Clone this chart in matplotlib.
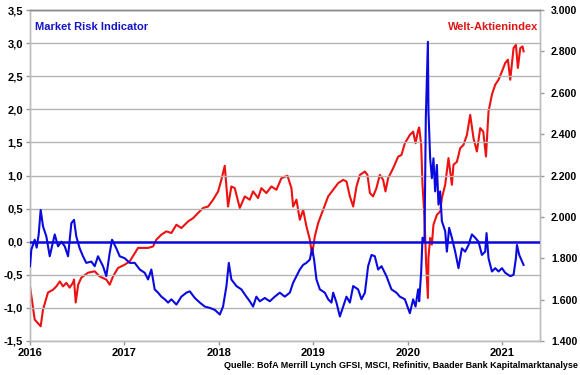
import matplotlib
matplotlib.use("Agg")
import matplotlib.pyplot as plt

# ---- data (decimal year, value) ----
risk_t = [2016.00, 2016.014, 2016.05, 2016.071, 2016.092, 2016.113, 2016.138, 2016.173, 2016.209, 2016.262,
          2016.297, 2016.332, 2016.368, 2016.403, 2016.438, 2016.466, 2016.49, 2016.526, 2016.561, 2016.596,
          2016.649, 2016.685, 2016.72, 2016.773, 2016.808, 2016.844, 2016.869, 2016.914, 2016.95, 2017.003,
          2017.056, 2017.109, 2017.162, 2017.215, 2017.25, 2017.285, 2017.32, 2017.356, 2017.391, 2017.427,
          2017.462, 2017.497, 2017.55, 2017.603, 2017.656, 2017.692, 2017.745, 2017.798, 2017.851, 2017.904,
          2017.957, 2018.01, 2018.044, 2018.08, 2018.105, 2018.132, 2018.185, 2018.238, 2018.291, 2018.327,
          2018.362, 2018.397, 2018.433, 2018.486, 2018.539, 2018.592, 2018.645, 2018.698, 2018.751, 2018.786,
          2018.821, 2018.857, 2018.892, 2018.927, 2018.963, 2018.987, 2019.008, 2019.033, 2019.069, 2019.122,
          2019.157, 2019.192, 2019.21, 2019.245, 2019.281, 2019.316, 2019.351, 2019.387, 2019.422, 2019.474,
          2019.51, 2019.546, 2019.58, 2019.616, 2019.651, 2019.686, 2019.722, 2019.774, 2019.827, 2019.88,
          2019.916, 2019.969, 2020.022, 2020.057, 2020.082, 2020.11, 2020.121, 2020.142, 2020.156, 2020.177,
          2020.191, 2020.213, 2020.219, 2020.237, 2020.255, 2020.272, 2020.29, 2020.308, 2020.325, 2020.343,
          2020.361, 2020.396, 2020.414, 2020.438, 2020.467, 2020.502, 2020.537, 2020.573, 2020.608, 2020.643,
          2020.679, 2020.714, 2020.749, 2020.785, 2020.82, 2020.834, 2020.855, 2020.891, 2020.926, 2020.961,
          2020.997, 2021.032, 2021.085, 2021.12, 2021.145, 2021.156, 2021.18, 2021.201, 2021.226]
risk_v = [-0.37, -0.12, 0.03, -0.09, 0.11, 0.48, 0.23, 0.08, -0.22, 0.11,
          -0.07, 0.00, -0.07, -0.22, 0.28, 0.33, 0.08, -0.10, -0.22, -0.32,
          -0.30, -0.37, -0.22, -0.37, -0.52, -0.17, 0.03, -0.10, -0.22, -0.25,
          -0.32, -0.32, -0.42, -0.47, -0.57, -0.42, -0.72, -0.77, -0.83, -0.87,
          -0.92, -0.87, -0.95, -0.83, -0.77, -0.75, -0.85, -0.92, -0.98, -1.00,
          -1.03, -1.10, -0.98, -0.67, -0.32, -0.57, -0.67, -0.72, -0.83, -0.90,
          -0.98, -0.83, -0.90, -0.85, -0.90, -0.83, -0.77, -0.83, -0.77, -0.62,
          -0.52, -0.42, -0.35, -0.32, -0.27, -0.10, -0.27, -0.57, -0.72, -0.77,
          -0.87, -0.92, -0.77, -0.92, -1.13, -0.98, -0.83, -0.92, -0.67, -0.72,
          -0.87, -0.77, -0.37, -0.20, -0.22, -0.42, -0.37, -0.52, -0.72, -0.77,
          -0.83, -0.87, -1.08, -0.87, -0.98, -0.72, -0.90, -0.45, 0.06, 0.00,
          1.87, 3.02, 1.97, 1.26, 0.96, 1.26, 0.76, 1.16, 0.56, 0.76,
          0.31, 0.16, -0.15, 0.21, 0.06, -0.15, -0.40, -0.10, -0.15, -0.05,
          0.11, 0.06, 0.00, -0.20, -0.15, 0.13, -0.25, -0.45, -0.40, -0.45,
          -0.40, -0.47, -0.52, -0.50, -0.25, -0.05, -0.20, -0.27, -0.35]

index_t = [2016.00, 2016.05, 2016.113, 2016.138, 2016.19, 2016.244, 2016.279, 2016.315, 2016.35, 2016.385,
           2016.42, 2016.455, 2016.466, 2016.484, 2016.51, 2016.543, 2016.614, 2016.685, 2016.738, 2016.808,
           2016.844, 2016.879, 2016.932, 2017.003, 2017.056, 2017.144, 2017.25, 2017.303, 2017.338, 2017.391,
           2017.444, 2017.497, 2017.55, 2017.603, 2017.674, 2017.727, 2017.78, 2017.833, 2017.886, 2017.939,
           2017.992, 2018.026, 2018.062, 2018.097, 2018.132, 2018.168, 2018.221, 2018.274, 2018.327, 2018.362,
           2018.415, 2018.45, 2018.503, 2018.556, 2018.609, 2018.662, 2018.726, 2018.768, 2018.786, 2018.821,
           2018.857, 2018.892, 2018.927, 2018.963, 2018.987, 2019.016, 2019.051, 2019.104, 2019.157, 2019.21,
           2019.263, 2019.316, 2019.351, 2019.387, 2019.422, 2019.457, 2019.493, 2019.546, 2019.573, 2019.599,
           2019.633, 2019.668, 2019.704, 2019.739, 2019.764, 2019.792, 2019.845, 2019.898, 2019.933, 2019.969,
           2020.022, 2020.057, 2020.082, 2020.11, 2020.121, 2020.142, 2020.156, 2020.177, 2020.195, 2020.213,
           2020.219, 2020.237, 2020.255, 2020.272, 2020.308, 2020.343, 2020.361, 2020.396, 2020.431, 2020.467,
           2020.484, 2020.52, 2020.555, 2020.59, 2020.626, 2020.661, 2020.696, 2020.732, 2020.767, 2020.799,
           2020.828, 2020.855, 2020.891, 2020.926, 2020.961, 2020.997, 2021.032, 2021.06, 2021.085, 2021.12,
           2021.145, 2021.166, 2021.191, 2021.215, 2021.226]
index_v = [1664, 1503, 1471, 1552, 1634, 1648, 1664, 1688, 1664, 1681,
           1658, 1682, 1697, 1586, 1672, 1706, 1730, 1737, 1712, 1697,
           1672, 1712, 1753, 1769, 1785, 1850, 1850, 1857, 1890, 1914,
           1930, 1922, 1962, 1946, 1978, 1994, 2019, 2043, 2050, 2083,
           2123, 2179, 2247, 2050, 2147, 2139, 2043, 2099, 2083, 2123,
           2091, 2139, 2115, 2147, 2131, 2187, 2199, 2139, 2050, 2083,
           1986, 2034, 1954, 1890, 1817, 1906, 1970, 2034, 2099, 2131,
           2163, 2179, 2171, 2099, 2050, 2147, 2203, 2219, 2203, 2115,
           2099, 2139, 2203, 2179, 2123, 2187, 2235, 2291, 2299, 2356,
           2396, 2412, 2356, 2420, 2432, 2348, 2155, 1996, 1769, 1608,
           1803, 1898, 1866, 1962, 2010, 2026, 2091, 2155, 2284, 2155,
           2252, 2266, 2332, 2348, 2396, 2493, 2380, 2316, 2429, 2412,
           2292, 2510, 2591, 2639, 2663, 2703, 2744, 2760, 2663, 2816,
           2832, 2720, 2816, 2824, 2800]

left_ticks = [-1.5, -1.0, -0.5, 0.0, 0.5, 1.0, 1.5, 2.0, 2.5, 3.0, 3.5]
left_labels = ["-1,5", "-1,0", "-0,5", "0,0", "0,5", "1,0", "1,5", "2,0", "2,5", "3,0", "3,5"]
right_ticks = [1400, 1600, 1800, 2000, 2200, 2400, 2600, 2800, 3000]
right_labels = ["1.400", "1.600", "1.800", "2.000", "2.200", "2.400", "2.600", "2.800", "3.000"]
year_ticks = [2016, 2017, 2018, 2019, 2020, 2021]
year_labels = ["2016", "2017", "2018", "2019", "2020", "2021"]

BLUE = "#0a0ae0"
RED = "#ee1111"
GRID = "#b4b4b4"
SPINE = "#bdbdbd"

plt.rcParams["font.family"] = ["Liberation Sans", "DejaVu Sans"]
plt.rcParams["font.weight"] = "bold"

fig = plt.figure(figsize=(5.8, 3.75), dpi=100)
ax = fig.add_axes([30 / 580, 1 - 341 / 375, 510 / 580, 331 / 375])
ax2 = ax.twinx()

ax.set_xlim(2016.0, 2021.40)
ax.set_ylim(-1.5, 3.5)
ax2.set_ylim(1400, 3000)

ax.set_yticks(left_ticks)
ax.set_yticklabels(left_labels)
ax2.set_yticks(right_ticks)
ax2.set_yticklabels(right_labels)
ax.set_xticks(year_ticks)
ax.set_xticklabels(year_labels)

ax.grid(axis="y", color=GRID, linewidth=1.0)
ax.set_axisbelow(True)

for a in (ax, ax2):
    for s in a.spines.values():
        s.set_color(SPINE)
        s.set_linewidth(1.0)
    a.spines["top"].set_color("#8a8a8a")
ax.tick_params(axis="both", labelsize=8, colors="#999999", length=3, width=1, labelcolor="black", pad=2)
ax2.tick_params(axis="y", labelsize=7.6, colors="#999999", length=3, width=1, labelcolor="black", pad=5)
for lab in ax.get_yticklabels() + ax.get_xticklabels() + ax2.get_yticklabels():
    lab.set_fontweight("bold")

ax.axhline(0.0, color=BLUE, linewidth=1.8, zorder=3)
ax2.plot(index_t, index_v, color=RED, linewidth=1.5, zorder=2)
ax.plot(risk_t, risk_v, color=BLUE, linewidth=1.5, zorder=4)
ax.set_zorder(ax2.get_zorder() + 1)
ax.patch.set_visible(False)

ax.text(0.010, 0.965, "Market Risk Indicator", transform=ax.transAxes, color="#1515c8",
        fontsize=8.0, fontweight="bold", ha="left", va="top")
ax.text(0.996, 0.965, "Welt-Aktienindex", transform=ax.transAxes, color="#e01515",
        fontsize=8.0, fontweight="bold", ha="right", va="top")
fig.text(578 / 580, 1 - 368 / 375, "Quelle: BofA Merrill Lynch GFSI, MSCI, Refinitiv, Baader Bank Kapitalmarktanalyse",
         ha="right", va="baseline", fontsize=6.5, fontweight="bold", color="black")

fig.savefig("out.png", dpi=100)
